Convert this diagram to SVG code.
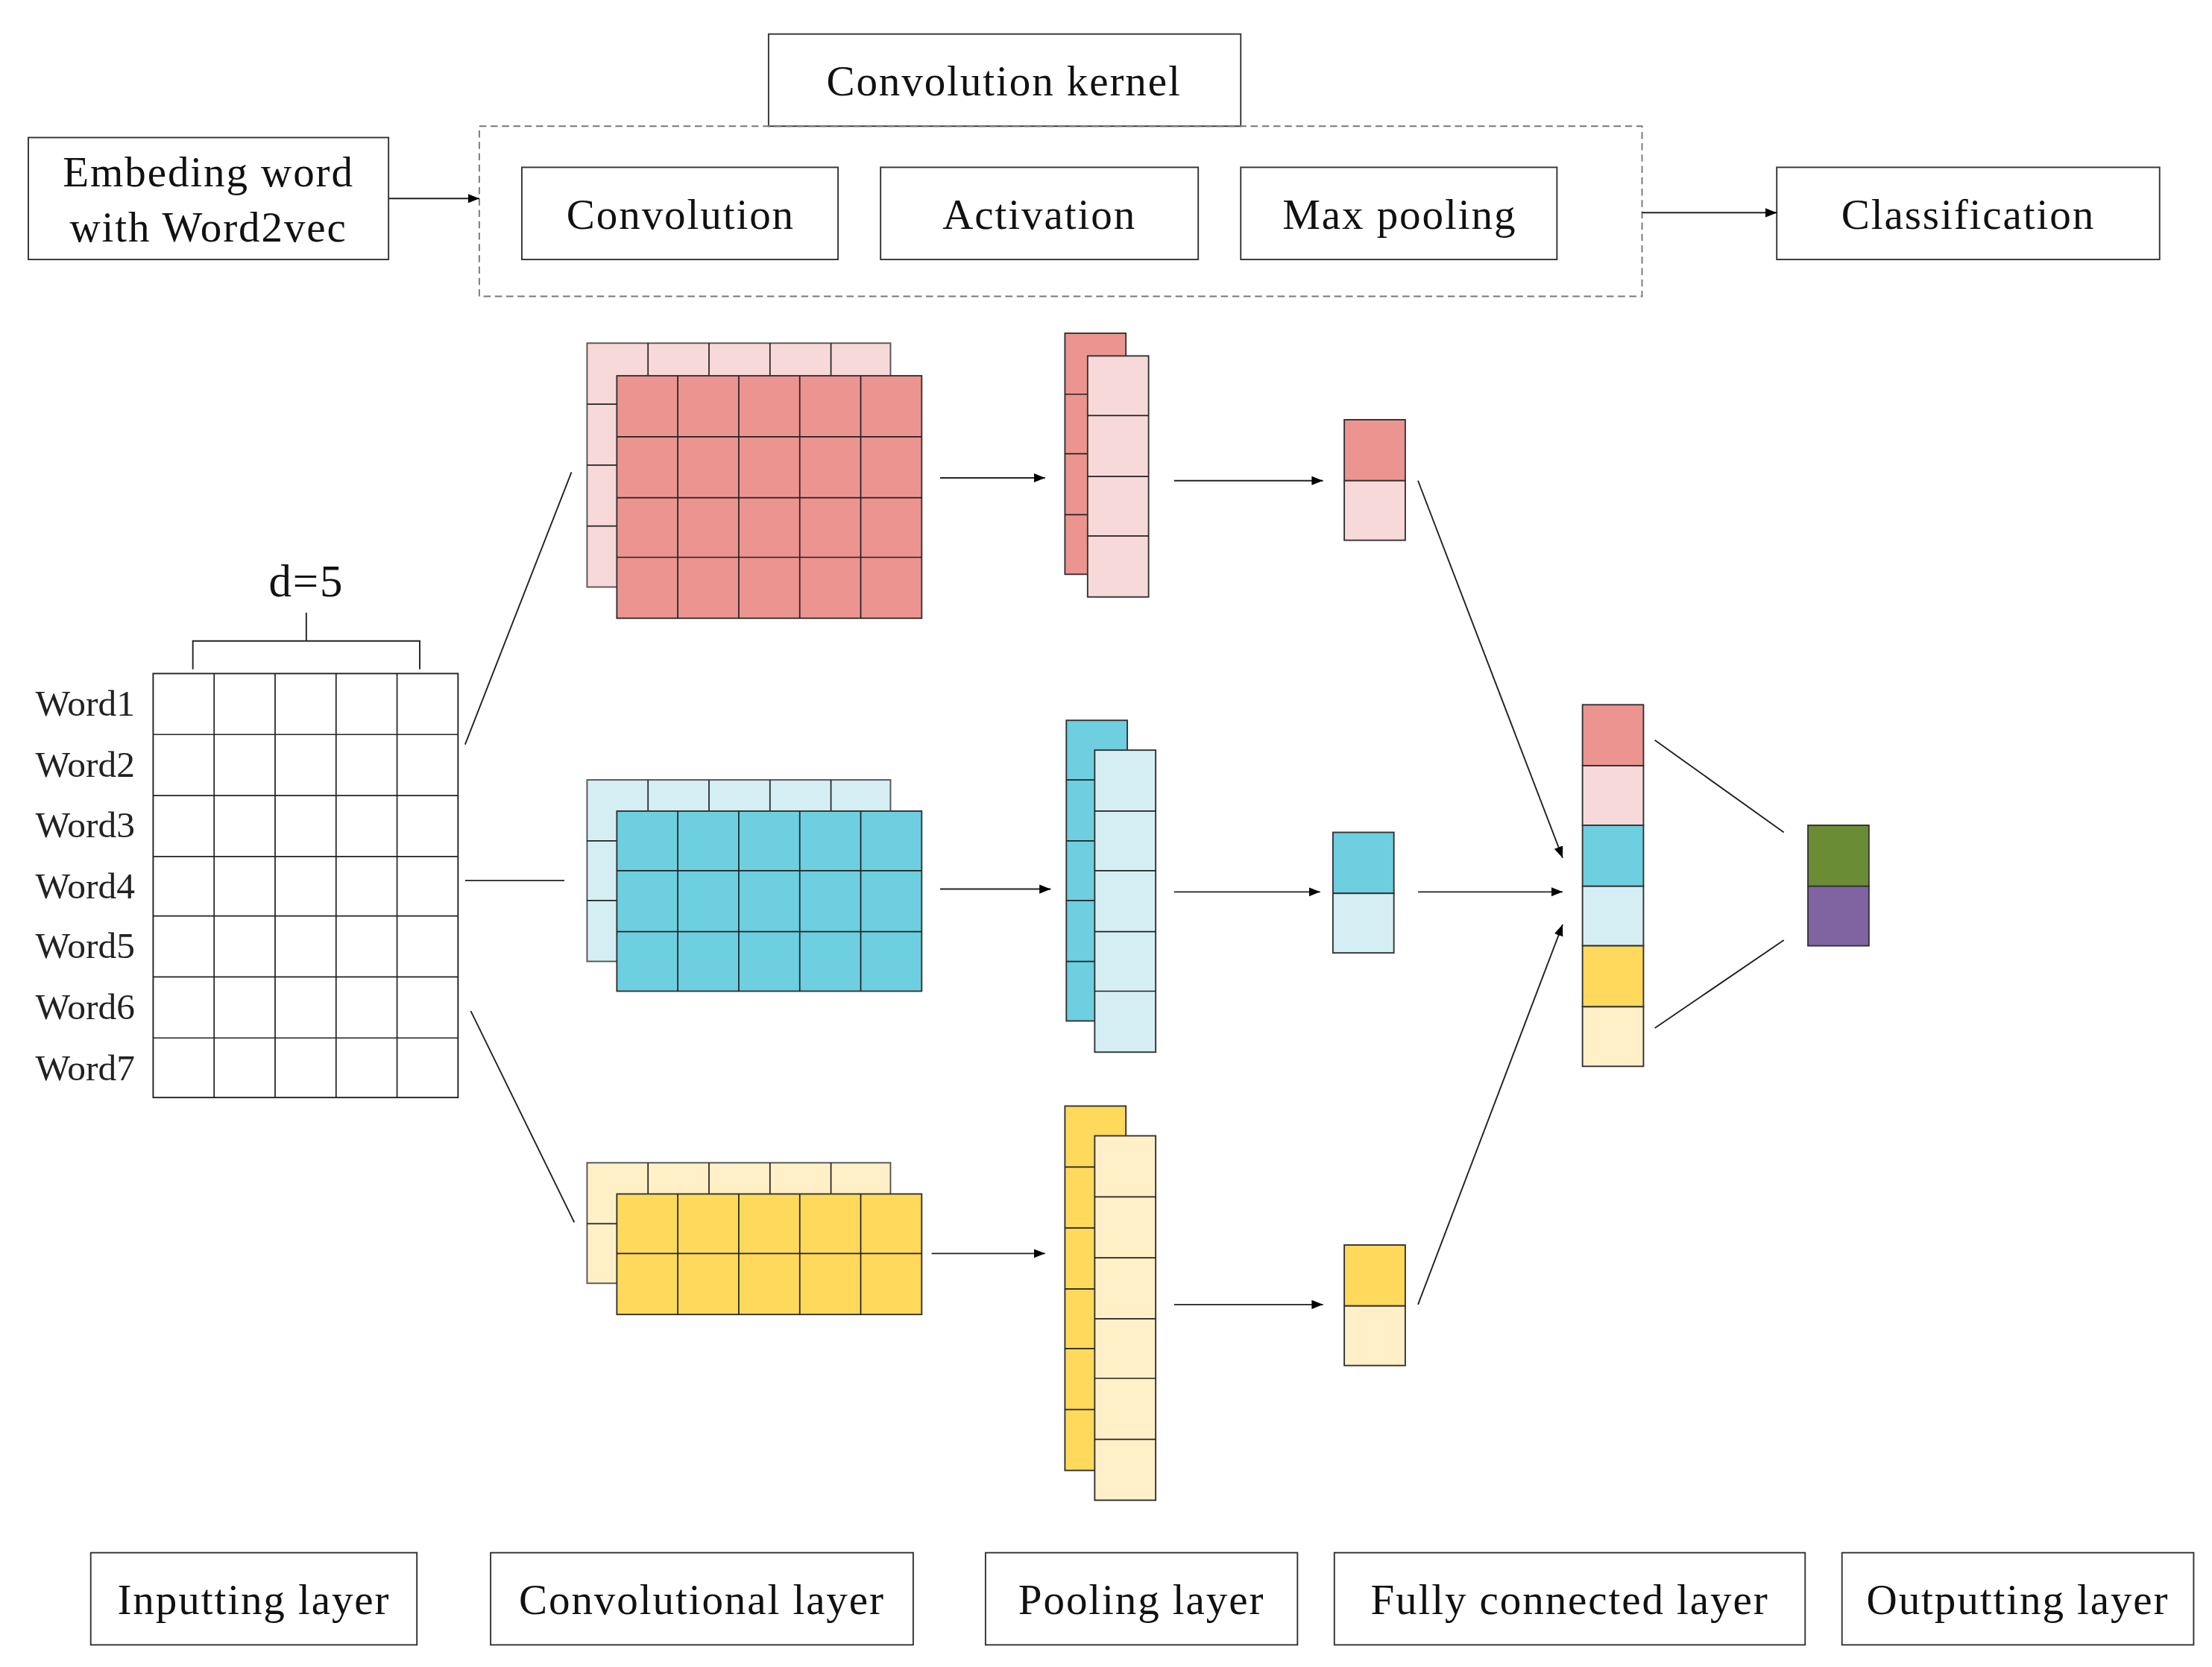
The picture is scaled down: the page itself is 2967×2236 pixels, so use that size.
<svg xmlns="http://www.w3.org/2000/svg" width="2967" height="2236" viewBox="0 0 2967 2236">
<style>
.b{fill:#fff;stroke:#333;stroke-width:1}
.t{font-family:"Liberation Serif",serif;font-size:30px;fill:#111;text-anchor:middle;dominant-baseline:central;letter-spacing:1px}
.w{font-family:"Liberation Serif",serif;font-size:26px;fill:#222;dominant-baseline:central}
.c{stroke:#222;stroke-width:0.9}
.l{stroke:#222;stroke-width:1;fill:none}
</style>
<defs><marker id="a" viewBox="0 0 10 10" refX="10" refY="5" markerWidth="8" markerHeight="8" orient="auto" markerUnits="userSpaceOnUse"><path d="M0,1 L10,5 L0,9 z" fill="#000"/></marker>
<marker id="a2" viewBox="0 0 10 10" refX="10" refY="5" markerWidth="14" markerHeight="14" orient="auto" markerUnits="userSpaceOnUse"><path d="M0,1 L10,5 L0,9 z" fill="#000"/></marker></defs>
<rect width="2967" height="2236" fill="#fff"/>
<g transform="scale(1.902)">
<g id="kernel"><rect x="542" y="24" width="333" height="65" class="b"/><text x="708" y="57" class="t">Convolution kernel</text>
<rect x="338" y="89" width="820" height="120" fill="none" stroke="#777" stroke-dasharray="5,3"/></g>
<g id="embed"><rect x="20" y="97" width="254" height="86" class="b"/><text x="147" y="121" class="t">Embeding word</text><text x="147" y="160" class="t">with Word2vec</text></g>
<g id="conv"><rect x="368" y="118" width="223" height="65" class="b"/><text x="480" y="151" class="t">Convolution</text></g>
<g id="act"><rect x="621" y="118" width="224" height="65" class="b"/><text x="733" y="151" class="t">Activation</text></g>
<g id="maxp"><rect x="875" y="118" width="223" height="65" class="b"/><text x="987" y="151" class="t">Max pooling</text></g>
<g id="cls"><rect x="1253" y="118" width="270" height="65" class="b"/><text x="1388" y="151" class="t">Classification</text></g>
<g id="input">
<path class="l" d="M216,432V452M136,472V452H296V472"/>
<text x="216" y="410" class="t" style="font-size:32px">d=5</text>
<rect x="108" y="475" width="215" height="299" fill="#fff" stroke="#222"/>
<path class="c" d="M151,475V774M194,475V774M237,475V774M280,475V774M108,518H323M108,561H323M108,604H323M108,646H323M108,689H323M108,732H323"/>
<text x="25" y="496" class="w">Word1</text><text x="25" y="539" class="w">Word2</text><text x="25" y="582" class="w">Word3</text><text x="25" y="625" class="w">Word4</text><text x="25" y="667" class="w">Word5</text><text x="25" y="710" class="w">Word6</text><text x="25" y="753" class="w">Word7</text>
</g>
<g id="convred">
<rect x="414" y="242" width="214" height="172" fill="#F8D9D9" stroke="#555"/>
<path class="c" d="M457,242V265M500,242V265M543,242V265M586,242V265M414,285H435M414,328H435M414,371H435"/>
<rect x="435" y="265" width="215" height="171" fill="#EC9590" stroke="#333"/>
<path class="c" d="M478,265V436M521,265V436M564,265V436M607,265V436M435,308H650M435,351H650M435,393H650"/>
</g>
<g id="convcyan">
<rect x="414" y="550" width="214" height="128" fill="#D5EEF4" stroke="#555"/>
<path class="c" d="M457,550V572M500,550V572M543,550V572M586,550V572M414,593H435M414,635H435"/>
<rect x="435" y="572" width="215" height="127" fill="#6DCFDF" stroke="#333"/>
<path class="c" d="M478,572V699M521,572V699M564,572V699M607,572V699M435,614H650M435,657H650"/>
</g>
<g id="convyellow">
<rect x="414" y="820" width="214" height="85" fill="#FFF0C8" stroke="#555"/>
<path class="c" d="M457,820V842M500,820V842M543,820V842M586,820V842M414,863H435"/>
<rect x="435" y="842" width="215" height="85" fill="#FFD95B" stroke="#333"/>
<path class="c" d="M478,842V927M521,842V927M564,842V927M607,842V927M435,884H650"/>
</g>
<g id="poolred">
<rect x="751" y="235" width="43" height="170" fill="#EC9590" stroke="#333"/>
<path class="c" d="M751,278H767M751,320H767M751,363H767"/>
<rect x="767" y="251" width="43" height="170" fill="#F8D9D9" stroke="#333"/>
<path class="c" d="M767,293H810M767,336H810M767,378H810"/>
</g>
<g id="poolcyan">
<rect x="752" y="508" width="43" height="212" fill="#6DCFDF" stroke="#333"/>
<path class="c" d="M752,550H772M752,593H772M752,635H772M752,678H772"/>
<rect x="772" y="529" width="43" height="213" fill="#D5EEF4" stroke="#333"/>
<path class="c" d="M772,572H815M772,614H815M772,657H815M772,699H815"/>
</g>
<g id="poolyellow">
<rect x="751" y="780" width="43" height="257" fill="#FFD95B" stroke="#333"/>
<path class="c" d="M751,823H772M751,866H772M751,909H772M751,951H772M751,994H772"/>
<rect x="772" y="801" width="43" height="257" fill="#FFF0C8" stroke="#333"/>
<path class="c" d="M772,844H815M772,887H815M772,930H815M772,972H815M772,1015H815"/>
</g>
<g id="fcsmall">
<rect x="948" y="296" width="43" height="43" fill="#EC9590" stroke="#333"/><rect x="948" y="339" width="43" height="42" fill="#F8D9D9" stroke="#333"/>
<rect x="940" y="587" width="43" height="43" fill="#6DCFDF" stroke="#333"/><rect x="940" y="630" width="43" height="42" fill="#D5EEF4" stroke="#333"/>
<rect x="948" y="878" width="43" height="43" fill="#FFD95B" stroke="#333"/><rect x="948" y="921" width="43" height="42" fill="#FFF0C8" stroke="#333"/>
</g>
<g id="fc">
<rect x="1116" y="497" width="43" height="43" fill="#EC9590" stroke="#333"/>
<rect x="1116" y="540" width="43" height="42" fill="#F8D9D9" stroke="#333"/>
<rect x="1116" y="582" width="43" height="43" fill="#6DCFDF" stroke="#333"/>
<rect x="1116" y="625" width="43" height="42" fill="#D5EEF4" stroke="#333"/>
<rect x="1116" y="667" width="43" height="43" fill="#FFD95B" stroke="#333"/>
<rect x="1116" y="710" width="43" height="42" fill="#FFF0C8" stroke="#333"/>
</g>
<g id="out">
<rect x="1275" y="582" width="43" height="43" fill="#6A8C35" stroke="#333"/>
<rect x="1275" y="625" width="43" height="42" fill="#8064A2" stroke="#333"/>
</g>
<g id="labels">
<rect x="64" y="1095" width="230" height="65" class="b"/><text x="179" y="1128" class="t">Inputting layer</text>
<rect x="346" y="1095" width="298" height="65" class="b"/><text x="495" y="1128" class="t">Convolutional layer</text>
<rect x="695" y="1095" width="220" height="65" class="b"/><text x="805" y="1128" class="t">Pooling layer</text>
<rect x="941" y="1095" width="332" height="65" class="b"/><text x="1107" y="1128" class="t">Fully connected layer</text>
<rect x="1299" y="1095" width="248" height="65" class="b"/><text x="1423" y="1128" class="t">Outputting layer</text>
</g>
<g id="connectors" class="l">
<path d="M274,140H338" marker-end="url(#a)"/>
<path d="M1158,150H1253" marker-end="url(#a)"/>
<path d="M328,525L403,333M328,621H398M332,713L405,862"/>
<path d="M663,337H737" marker-end="url(#a)"/>
<path d="M663,627H741" marker-end="url(#a)"/>
<path d="M657,884H737" marker-end="url(#a)"/>
<path d="M828,339H933" marker-end="url(#a)"/>
<path d="M828,629H931" marker-end="url(#a)"/>
<path d="M828,920H933" marker-end="url(#a)"/>
<path d="M1000,339L1102,605" marker-end="url(#a)"/>
<path d="M1000,629H1102" marker-end="url(#a)"/>
<path d="M1000,920L1102,652" marker-end="url(#a)"/>
<path d="M1167,522L1258,587M1167,725L1258,663"/>
</g>
</g>
</svg>
